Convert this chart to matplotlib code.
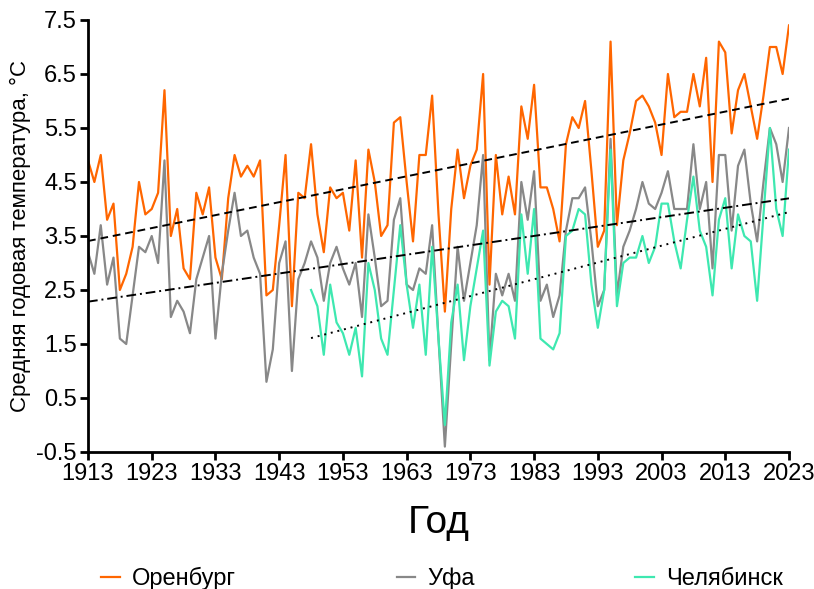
import matplotlib
matplotlib.use("Agg")
import matplotlib.pyplot as plt
import numpy as np

plt.rcParams['font.family'] = ['Liberation Sans Narrow', 'Liberation Sans', 'DejaVu Sans']

years = np.arange(1913, 2024)

orenburg = [
    4.9, 4.5, 5.0, 3.8, 4.1, 2.5, 2.8, 3.3, 4.5, 3.9,   # 1913-1922
    4.0, 4.3, 6.2, 3.5, 4.0, 2.9, 2.7, 4.3, 3.9, 4.4,   # 1923-1932
    3.1, 2.7, 4.2, 5.0, 4.6, 4.8, 4.6, 4.9, 2.4, 2.5,   # 1933-1942
    3.7, 5.0, 2.2, 4.3, 4.2, 5.2, 3.9, 3.2, 4.4, 4.2,   # 1943-1952
    4.3, 3.6, 4.9, 3.1, 5.1, 4.5, 3.5, 3.7, 5.6, 5.7,   # 1953-1962
    4.5, 3.4, 5.0, 5.0, 6.1, 3.9, 2.1, 4.0, 5.1, 4.2,   # 1963-1972
    4.8, 5.1, 6.5, 2.6, 5.0, 3.9, 4.6, 3.9, 5.9, 5.3,   # 1973-1982
    6.3, 4.4, 4.4, 4.0, 3.4, 5.2, 5.7, 5.5, 6.0, 4.7,   # 1983-1992
    3.3, 3.6, 7.1, 3.7, 4.9, 5.4, 6.0, 6.1, 5.9, 5.6,   # 1993-2002
    5.0, 6.5, 5.7, 5.8, 5.8, 6.5, 5.9, 6.8, 4.5, 7.1,   # 2003-2012
    6.9, 5.4, 6.2, 6.5, 5.9, 5.3, 6.1, 7.0, 7.0, 6.5,   # 2013-2022
    7.4,                                                # 2023
]

ufa = [
    3.2, 2.8, 3.7, 2.6, 3.1, 1.6, 1.5, 2.4, 3.3, 3.2,
    3.5, 3.0, 4.9, 2.0, 2.3, 2.1, 1.7, 2.7, 3.1, 3.5,
    1.6, 2.8, 3.6, 4.3, 3.5, 3.6, 3.1, 2.8, 0.8, 1.4,
    3.0, 3.4, 1.0, 2.7, 3.0, 3.4, 3.1, 2.3, 3.0, 3.3,
    2.9, 2.6, 3.0, 2.0, 3.9, 3.1, 2.2, 2.3, 3.8, 4.2,
    2.6, 2.5, 2.9, 2.8, 3.7, 1.6, -0.4, 1.5, 3.3, 2.3,
    3.0, 3.7, 5.0, 1.2, 2.8, 2.4, 2.8, 2.3, 4.5, 3.8,
    4.7, 2.3, 2.6, 2.0, 2.4, 3.6, 4.2, 4.2, 4.4, 3.4,
    2.2, 2.5, 5.3, 2.4, 3.3, 3.6, 4.0, 4.5, 4.1, 4.0,
    4.3, 4.7, 4.0, 4.0, 4.0, 5.2, 4.0, 4.5, 2.9, 5.0,
    5.0, 3.6, 4.8, 5.1, 4.1, 3.4, 4.5, 5.5, 5.2, 4.5,
    5.5,
]

chel_years = np.arange(1948, 2024)
chelyabinsk = [
    2.5, 2.2, 1.3, 2.6, 1.9,                            # 1948-1952
    1.7, 1.3, 1.8, 0.9, 3.0, 2.5, 1.6, 1.3, 2.5, 3.7,   # 1953-1962
    2.6, 1.8, 2.6, 1.3, 3.3, 1.6, 0.0, 1.9, 2.6, 1.2,   # 1963-1972
    2.2, 2.9, 3.6, 1.1, 2.1, 2.3, 2.2, 1.6, 3.9, 2.8,   # 1973-1982
    4.0, 1.6, 1.5, 1.4, 1.7, 3.5, 3.6, 4.0, 3.9, 2.6,   # 1983-1992
    1.8, 2.5, 5.1, 2.2, 3.0, 3.1, 3.1, 3.5, 3.0, 3.3,   # 1993-2002
    4.1, 4.1, 3.4, 2.9, 3.8, 4.6, 3.6, 3.3, 2.4, 3.8,   # 2003-2012
    4.2, 2.9, 3.9, 3.5, 3.4, 2.3, 3.9, 5.5, 4.0, 3.5,   # 2013-2022
    5.1,
]

labels = ['Оренбург', 'Уфа', 'Челябинск']
colors = ['#ff6600', '#888888', '#3ee8b0']


def main():
    fig = plt.figure(figsize=(8.14, 5.89), dpi=100)
    ax = fig.add_axes([88 / 814, 1 - 452 / 589, 701 / 814, 432 / 589])

    series = [(years, orenburg), (years, ufa), (chel_years, chelyabinsk)]
    for (x, y), lab, col in zip(series, labels, colors):
        ax.plot(x, y, color=col, lw=1.6, label=lab)

    # linear trends
    styles = [(0, (4, 2.5)), (0, (5, 2, 1, 2)), (0, (1, 2.5))]
    for (x, y), ls in zip(series, styles):
        k, b = np.polyfit(x, y, 1)
        ax.plot(x, k * np.asarray(x) + b, color='black', lw=1.4, linestyle=ls)

    ax.set_xlim(1913, 2023)
    ax.set_ylim(-0.5, 7.5)
    ax.set_xticks(np.arange(1913, 2024, 10))
    ax.set_yticks(np.arange(-0.5, 7.6, 1.0))
    ax.set_yticklabels([f'{v:.1f}' for v in np.arange(-0.5, 7.6, 1.0)])
    for s in ['top', 'right']:
        ax.spines[s].set_visible(False)
    for s in ['left', 'bottom']:
        ax.spines[s].set_linewidth(2)
    ax.tick_params(direction='out', length=6, width=2, labelsize=17, pad=2)

    ax.set_xlabel('Год', fontsize=28, labelpad=14)
    ax.set_ylabel('Средняя годовая температура, °C', fontsize=16,
                  family=['Liberation Sans', 'DejaVu Sans'], labelpad=4)

    fig.legend(loc='center', ncol=3, mode='expand', frameon=False,
               bbox_to_anchor=(92 / 814, 0.0, 700 / 814, 0.035),
               fontsize=17, handlelength=0.8, handletextpad=0.5,
               borderaxespad=0)

    fig.savefig('out.png', dpi=100)


if __name__ == "__main__":
    main()
